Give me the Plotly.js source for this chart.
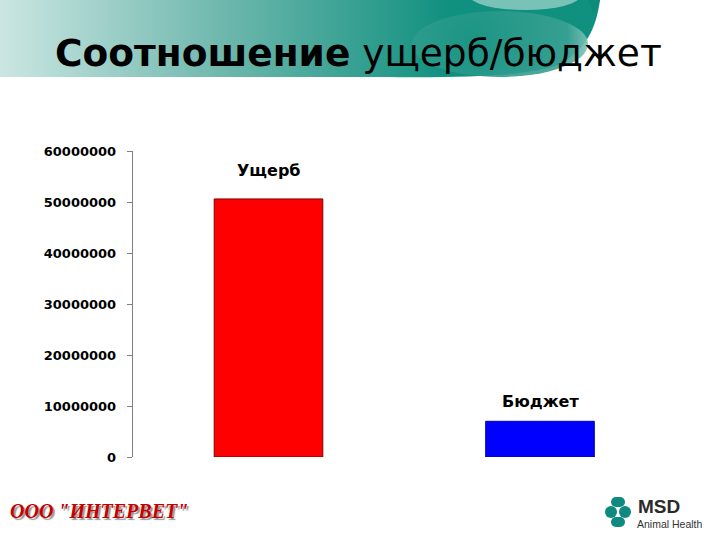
<!DOCTYPE html>
<html>
<head>
<meta charset="utf-8">
<script src="https://cdn.plot.ly/plotly-3.0.1.min.js"></script>
<style>html,body{margin:0;padding:0;background:#fff;}#chart{width:720px;height:540px;}</style>
</head>
<body>
<div id="chart"></div>
<script>
// ---- data ----
const categories = ["Ущерб", "Бюджет"];
const values = [50600000, 7000000];
const barColors = ["#ff0000", "#0000ff"];
const tickValues = [0, 10000000, 20000000, 30000000, 40000000, 50000000, 60000000];
const titleBold = "Соотношение";
const titleRest = "ущерб/бюджет";
const leftLogo = 'ООО "ИНТЕРВЕТ"';
const rightLogo = "MSD";
const rightLogoSub = "Animal Health";

// ---- decorative background (header band + MSD emblem), no text ----
const svg = `<svg xmlns="http://www.w3.org/2000/svg" width="720" height="540" viewBox="0 0 720 540">
<defs>
<linearGradient id="g" x1="0" y1="0" x2="450" y2="0" gradientUnits="userSpaceOnUse">
<stop offset="0" stop-color="#cbe6e2"/><stop offset="0.5" stop-color="#6db7ad"/><stop offset="1" stop-color="#10907f"/>
</linearGradient>
<radialGradient id="c" cx="470" cy="40" r="130" gradientUnits="userSpaceOnUse">
<stop offset="0" stop-color="#1e9585"/><stop offset="0.75" stop-color="#3aa193"/><stop offset="1" stop-color="#a9d6cf"/>
</radialGradient>
</defs>
<path d="M0,0 H600 C596,30 585,50 560,64 C530,76 470,78 380,77 L0,77 Z" fill="url(#g)"/>
<ellipse cx="500" cy="44" rx="88" ry="33" fill="url(#c)" opacity="0.9"/>
<ellipse cx="525" cy="-4" rx="55" ry="14" fill="#79c2b7"/>
<path d="M0,0 H600 C598,6 596,10 594,14 L588,0 Z" fill="#0e8a7b"/>
<g fill="#0f8a80">
<rect x="611" y="497" width="14" height="10" rx="5"/>
<rect x="611" y="517" width="14" height="10" rx="5"/>
<circle cx="611" cy="512" r="6"/>
<circle cx="625" cy="512" r="6"/>
</g>
</svg>`;
const bgSource = "data:image/svg+xml;charset=utf-8," + encodeURIComponent(svg);

const W = 720, H = 540;
const plotLeft = 132.75, plotRight = 675.75, plotTop = 151, plotBottom = 457;

const trace = {
  type: "bar",
  x: categories,
  y: values,
  marker: {
    color: barColors,
    line: {color: ["#7a0000", "#0000aa"], width: 1}
  },
  hoverinfo: "x+y",
  showlegend: false
};

const labelShift = [28, 20];
const annotations = categories.map((c, i) => ({
  x: c, y: values[i], xref: "x", yref: "y",
  text: "<b>" + c + "</b>",
  showarrow: false, yanchor: "middle", yshift: labelShift[i],
  font: {family: "DejaVu Sans, sans-serif", size: 16, color: "#000"}
}));

annotations.push({
  xref: "paper", yref: "paper", x: 99 / W, y: 1 - 510.5 / H,
  xanchor: "center", yanchor: "middle", showarrow: false,
  text: "<b><i>" + leftLogo + "</i></b>",
  font: {family: "Liberation Serif, Times New Roman, serif", size: 20, color: "#c40000", shadow: "2px 2px 1px #9a9a9a"}
});
annotations.push({
  xref: "paper", yref: "paper", x: 636 / W, y: 1 - 506.5 / H,
  xanchor: "left", yanchor: "middle", showarrow: false,
  text: "<b>" + rightLogo + "</b>",
  font: {family: "Liberation Sans, Arial, sans-serif", size: 19, color: "#2b2b2b"}
});
annotations.push({
  xref: "paper", yref: "paper", x: 635 / W, y: 1 - 524 / H,
  xanchor: "left", yanchor: "middle", showarrow: false,
  text: rightLogoSub,
  font: {family: "Liberation Sans, Arial, sans-serif", size: 10.5, color: "#333"}
});

const layout = {
  width: W, height: H,
  margin: {l: 0, r: 0, t: 0, b: 0, pad: 0},
  paper_bgcolor: "#ffffff",
  plot_bgcolor: "rgba(0,0,0,0)",
  title: {
    text: "<b>" + titleBold + "</b> " + titleRest,
    xref: "paper", yref: "container",
    x: 55 / W, xanchor: "left",
    y: 1 - 53 / H, yanchor: "middle",
    font: {family: "DejaVu Sans, sans-serif", size: 37.5, color: "#000"}
  },
  bargap: 0.6,
  xaxis: {
    domain: [plotLeft / W, plotRight / W],
    type: "category",
    showticklabels: false, ticks: "", showline: false, showgrid: false, zeroline: false
  },
  yaxis: {
    domain: [1 - plotBottom / H, 1 - plotTop / H],
    range: [0, 60000000],
    tickvals: tickValues,
    ticktext: tickValues.map(v => String(v)),
    ticks: "outside", ticklen: 5, tickcolor: "#808080", tickwidth: 1,
    showline: true, linecolor: "#808080", linewidth: 1,
    showgrid: false, zeroline: false,
    ticklabelstandoff: 8,
    tickfont: {family: "DejaVu Sans, sans-serif", size: 13, color: "#000", weight: "bold"}
  },
  images: [{
    source: bgSource, xref: "paper", yref: "paper",
    x: 0, y: 1, sizex: 1, sizey: 1, sizing: "stretch",
    xanchor: "left", yanchor: "top", layer: "below"
  }],
  annotations: annotations
};

Plotly.newPlot("chart", [trace], layout, {displayModeBar: false, staticPlot: true});
</script>
</body>
</html>
